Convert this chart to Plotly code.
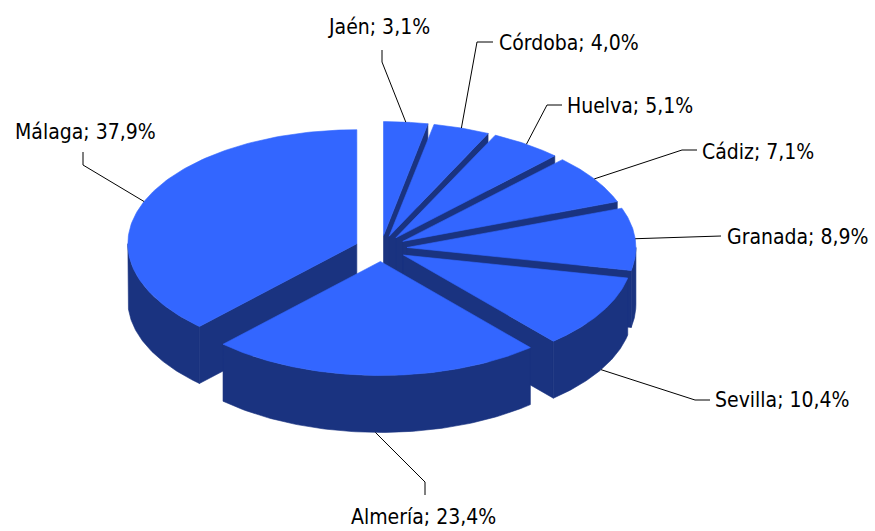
import numpy as np
import plotly.graph_objects as go

# ---------------- data ----------------
labels = ["Jaén", "Córdoba", "Huelva", "Cádiz", "Granada", "Sevilla", "Almería", "Málaga"]
values = [3.1, 4.0, 5.1, 7.1, 8.9, 10.4, 23.4, 37.9]

# ---------------- layout / style constants ----------------
W, H = 875, 531
CX, CY = 381.0, 248.5        # pie centre (px)
RX, RY = 229.0, 114.0        # ellipse radii of the top face
DEPTH = 57.0                 # thickness of the pie
PULL = 26.0                  # explosion distance (x units)
TOP = "#3366FF"
SIDE = "#1A3380"
FONT = "Liberation Sans Narrow, Arial Narrow, DejaVu Sans Condensed, sans-serif"
FSIZE = 21

# label placement: text position, anchor, and leader bend points (layout only)
label_pos = [
    dict(x=379, y=27, xa="center", path=[(382, 62), (382, 50)]),
    dict(x=497, y=43, xa="left", path=[(477, 42), (493, 42)]),
    dict(x=565, y=106, xa="left", path=[(547, 105), (562, 105)]),
    dict(x=700, y=152, xa="left", path=[(682, 150), (697, 150)]),
    dict(x=725, y=237, xa="left", path=[(706, 236), (721, 236)]),
    dict(x=713, y=400, xa="left", path=[(695, 400), (710, 400)]),
    dict(x=423, y=517, xa="center", path=[(425, 482), (425, 495)]),
    dict(x=13, y=132, xa="left", path=[(83, 165), (83, 152)]),
]

# ---------------- geometry ----------------
vals = np.array(values, dtype=float)
frac = vals / vals.sum()
ends = np.cumsum(frac) * 2 * np.pi
starts = ends - frac * 2 * np.pi
mids = (starts + ends) / 2


def edge(ox, oy, th, dz=0.0):
    return ox + RX * np.sin(th), oy - RY * np.cos(th) + dz


def centre(i):
    m = mids[i]
    return CX + PULL * np.sin(m), CY - PULL * (RY / RX) * np.cos(m)


fig = go.Figure()


def poly(xs, ys, color):
    xs = list(xs) + [xs[0]]
    ys = list(ys) + [ys[0]]
    fig.add_trace(go.Scatter(x=xs, y=ys, mode="lines", fill="toself",
                             fillcolor=color, line=dict(color=color, width=0.6),
                             hoverinfo="skip", showlegend=False))


# walls: sort slices back to front
order = sorted(range(len(vals)), key=lambda i: -np.cos(mids[i]))
for i in order:
    ox, oy = centre(i)
    a, b = starts[i], ends[i]
    if np.sin(a) < -1e-6:
        ex, ey = edge(ox, oy, a)
        poly([ox, ex, ex, ox], [oy, ey, ey + DEPTH, oy + DEPTH], SIDE)
    if np.sin(b) > 1e-6:
        ex, ey = edge(ox, oy, b)
        poly([ox, ex, ex, ox], [oy, ey, ey + DEPTH, oy + DEPTH], SIDE)
    t1, t2 = max(a, np.pi / 2), min(b, 3 * np.pi / 2)
    if t2 > t1:
        th = np.linspace(t1, t2, 80)
        tx, ty = edge(ox, oy, th)
        bx, by = edge(ox, oy, th[::-1], DEPTH)
        poly(np.concatenate([tx, bx]), np.concatenate([ty, by]), SIDE)

# top faces
for i in range(len(vals)):
    ox, oy = centre(i)
    th = np.linspace(starts[i], ends[i], 120)
    tx, ty = edge(ox, oy, th)
    poly(np.concatenate([[ox], tx]), np.concatenate([[oy], ty]), TOP)

# labels and leader lines
for i, lab in enumerate(labels):
    ox, oy = centre(i)
    m = mids[i]
    dz = DEPTH if np.cos(m) < -0.3 else 0.0
    ax, ay = edge(ox, oy, m, dz)
    lp = label_pos[i]
    xs = [ax] + [p[0] for p in lp["path"]]
    ys = [ay] + [p[1] for p in lp["path"]]
    fig.add_trace(go.Scatter(x=xs, y=ys, mode="lines",
                             line=dict(color="black", width=1),
                             hoverinfo="skip", showlegend=False))
    txt = f"{lab}; {values[i]:.1f}%".replace(".", ",")
    fig.add_annotation(x=lp["x"], y=lp["y"], text=txt, showarrow=False,
                       xanchor=lp["xa"], yanchor="middle",
                       font=dict(family=FONT, size=FSIZE, color="black"))

fig.update_xaxes(range=[0, W], visible=False, fixedrange=True)
fig.update_yaxes(range=[H, 0], visible=False, fixedrange=True)
fig.update_layout(width=W, height=H, margin=dict(l=0, r=0, t=0, b=0),
                  paper_bgcolor="white", plot_bgcolor="white",
                  showlegend=False)

fig.write_html("out.html", config={"displayModeBar": False},
               post_script="document.body.style.margin='0';"
                           "document.body.style.overflow='hidden';")
